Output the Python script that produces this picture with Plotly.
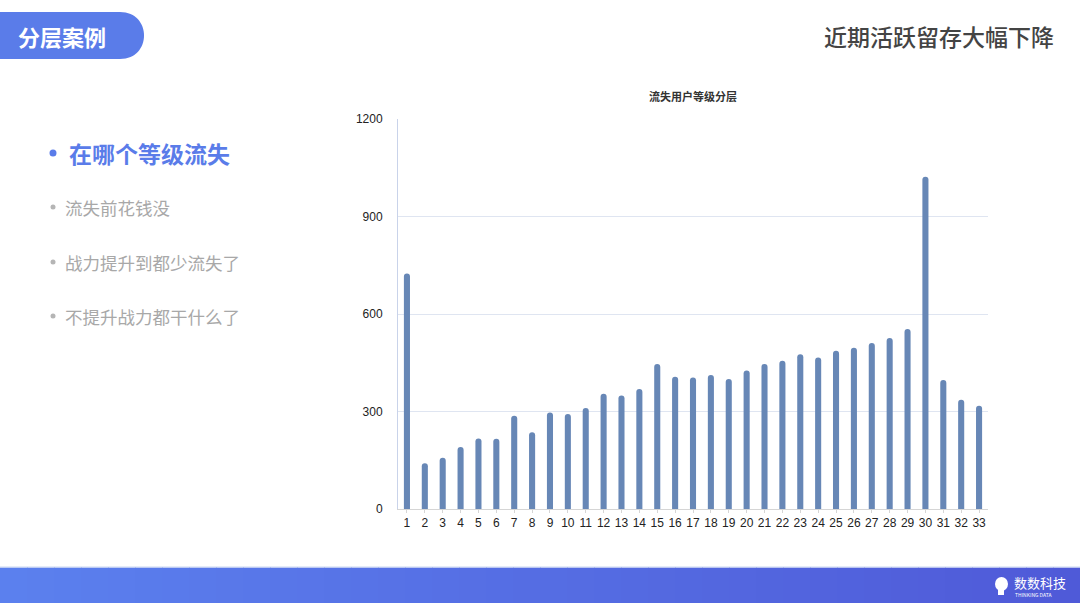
import plotly.graph_objects as go

# data
levels = [str(i) for i in range(1, 34)]
churned = [725, 141, 158, 191, 217, 216, 287, 236, 297, 292, 311, 355, 349, 369, 446, 407,
           405, 412, 400, 426, 446, 456, 476, 466, 487, 496, 511, 526, 554, 1022, 397, 336, 318]
y_ticks = [0, 300, 600, 900, 1200]

header_tag = "分层案例"
header_title = "近期活跃留存大幅下降"
chart_title = "流失用户等级分层"
bullet_main = "在哪个等级流失"
bullets_other = ["流失前花钱没", "战力提升到都少流失了", "不提升战力都干什么了"]

W, H = 1080, 603
# plot area in pixels
L, R, T, B = 398, 988, 119, 509
FONT = "Noto Sans CJK SC"


def px(x):
    return (x - L) / (R - L)


def py(y):
    return (B - y) / (B - T)


fig = go.Figure()
fig.add_trace(go.Bar(
    x=levels, y=churned, width=0.34,
    marker=dict(color="#6787b6", cornerradius=3, line=dict(width=0)),
    hoverinfo="x+y", showlegend=False,
))

shapes = []
# bottom gradient band
n = 40
c0 = (0x5b, 0x80, 0xee)
c1 = (0x4f, 0x5a, 0xd8)
for i in range(n):
    t = i / (n - 1)
    col = "rgb(%d,%d,%d)" % tuple(round(a + (b - a) * t) for a, b in zip(c0, c1))
    shapes.append(dict(type="rect", xref="paper", yref="paper", layer="below",
                       x0=px(i * W / n), x1=px((i + 1) * W / n + 1),
                       y0=py(603), y1=py(567.5), fillcolor=col, line=dict(width=0)))
shapes.append(dict(type="line", xref="paper", yref="paper", x0=px(0), x1=px(W),
                   y0=py(567), y1=py(567), line=dict(color="#c9d6f2", width=1)))
# header pill
shapes.append(dict(type="path", xref="paper", yref="paper", layer="below",
                   path="M {a},{b} L {c},{b} C {d},{b} {d},{e} {c},{e} L {a},{e} Z".format(
                       a=px(0), b=py(12), c=px(120), d=px(152), e=py(59)),
                   fillcolor="#5a7ce9", line=dict(width=0)))
# logo head
shapes.append(dict(type="circle", xref="paper", yref="paper",
                   x0=px(995), x1=px(1008), y0=py(591), y1=py(577),
                   fillcolor="white", line=dict(width=0)))
shapes.append(dict(type="rect", xref="paper", yref="paper",
                   x0=px(998), x1=px(1004), y0=py(595), y1=py(588),
                   fillcolor="white", line=dict(width=0)))
# bullet dots
for yy, col, r in [(153, "#5a7ce9", 3.5), (207, "#b5b5b5", 2.5), (262, "#b5b5b5", 2.5), (316, "#b5b5b5", 2.5)]:
    shapes.append(dict(type="circle", xref="paper", yref="paper",
                       x0=px(53 - r), x1=px(53 + r), y0=py(yy + r), y1=py(yy - r),
                       fillcolor=col, line=dict(width=0)))

annotations = [
    dict(text="<b>" + header_tag + "</b>", x=px(62), y=py(36), font=dict(size=22, color="white")),
    dict(text=header_title, x=px(1056), y=py(36), xanchor="right",
         font=dict(size=23, color="#444444", weight=500)),
    dict(text="<b>" + chart_title + "</b>", x=px(693), y=py(96), font=dict(size=11, color="#333333")),
    dict(text="<b>" + bullet_main + "</b>", x=px(67), y=py(153), xanchor="left",
         font=dict(size=23, color="#5a7ce9")),
    dict(text="数数科技", x=px(1012), y=py(582), xanchor="left", font=dict(size=13, color="white")),
    dict(text="THINKING DATA", x=px(1013), y=py(594), xanchor="left", font=dict(size=5, color="white")),
]
for yy, txt in zip([207, 262, 316], bullets_other):
    annotations.append(dict(text=txt, x=px(63), y=py(yy), xanchor="left",
                            font=dict(size=17.5, color="#a8a8a8")))
for a in annotations:
    a.update(xref="paper", yref="paper", showarrow=False)
    a.setdefault("yanchor", "middle")
    a.setdefault("xanchor", "center")

tick_font = dict(size=12, color="#222222", family="Liberation Sans")
fig.update_layout(
    width=W, height=H,
    margin=dict(l=L, r=W - R, t=T, b=H - B, pad=0),
    paper_bgcolor="white", plot_bgcolor="white",
    font=dict(family=FONT, color="#333333"),
    shapes=shapes, annotations=annotations,
    xaxis=dict(type="category", range=[-0.5, 32.5], showgrid=False, showline=True,
               linecolor="#d5d5d5", linewidth=1, ticks="outside", ticklen=3, tickcolor="#d5d5d5",
               tickfont=tick_font, fixedrange=True),
    yaxis=dict(range=[0, 1200], tickvals=y_ticks, showgrid=True, gridcolor="#dfe5f1",
               gridwidth=1, showline=True, linecolor="#c9d3ea", linewidth=1, zeroline=False,
               ticks="", tickfont=tick_font, ticklabelstandoff=12, fixedrange=True),
)

fig.write_html("out.html", config={"displayModeBar": False},
               post_script="document.body.style.margin='0';")
